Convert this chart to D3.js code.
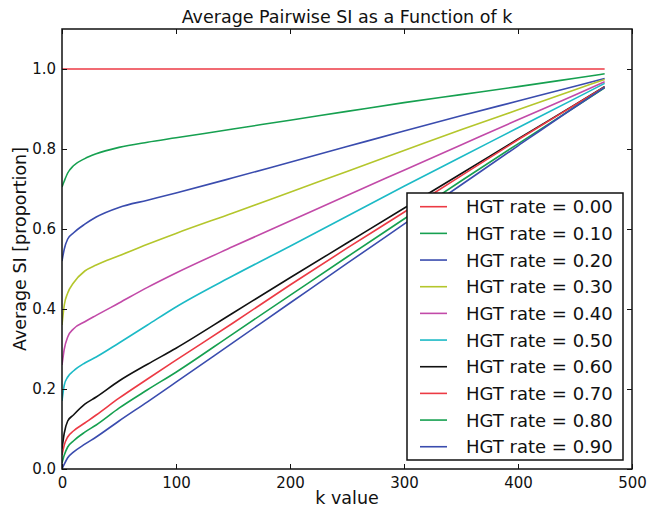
<!DOCTYPE html>
<html>
<head>
<meta charset="utf-8">
<script src="https://cdn.jsdelivr.net/npm/d3@7/dist/d3.min.js"></script>
<style>
body { margin: 0; background: #fff; }
text { font-family: "DejaVu Sans", sans-serif; fill: #111; }
</style>
</head>
<body>
<svg id="chart" width="647" height="509"></svg>
<script>
// k values sampled along the x axis
var kValues = [0, 2, 5, 10, 20, 30, 50, 75, 100, 150, 200, 250, 300, 350, 400, 450, 476];

var rateLabels = ["0.00", "0.10", "0.20", "0.30", "0.40", "0.50", "0.60", "0.70", "0.80", "0.90"];
var lineColors = ["#ec3a44", "#16a050", "#3a4cae", "#b4c62c", "#c24aa8", "#1cbac6", "#111111", "#ec3a44", "#16a050", "#3a4cae"];

// average SI per HGT rate
var si00 = [1, 1, 1, 1, 1, 1, 1, 1, 1, 1, 1, 1, 1, 1, 1, 1, 1];
var si10 = [0.705, 0.72, 0.74, 0.758, 0.776, 0.788, 0.804, 0.817, 0.828, 0.85, 0.872, 0.894, 0.916, 0.936, 0.956, 0.977, 0.988];
var si20 = [0.52, 0.55, 0.575, 0.59, 0.612, 0.63, 0.654, 0.672, 0.69, 0.728, 0.767, 0.806, 0.845, 0.883, 0.92, 0.957, 0.976];
var si30 = [0.36, 0.41, 0.44, 0.465, 0.495, 0.51, 0.533, 0.562, 0.589, 0.64, 0.692, 0.744, 0.796, 0.848, 0.898, 0.948, 0.974];
var si40 = [0.26, 0.3, 0.33, 0.35, 0.368, 0.384, 0.415, 0.454, 0.49, 0.556, 0.62, 0.684, 0.747, 0.81, 0.873, 0.935, 0.968];
var si50 = [0.17, 0.21, 0.23, 0.245, 0.265, 0.28, 0.315, 0.36, 0.405, 0.483, 0.557, 0.632, 0.707, 0.78, 0.853, 0.926, 0.964];
var si60 = [0.05, 0.09, 0.12, 0.135, 0.162, 0.18, 0.22, 0.262, 0.302, 0.39, 0.478, 0.565, 0.652, 0.738, 0.825, 0.911, 0.956];
var si70 = [0.035, 0.06, 0.08, 0.095, 0.115, 0.135, 0.177, 0.225, 0.272, 0.365, 0.46, 0.552, 0.642, 0.733, 0.823, 0.91, 0.955];
var si80 = [0.015, 0.035, 0.055, 0.07, 0.092, 0.11, 0.152, 0.198, 0.242, 0.338, 0.434, 0.53, 0.625, 0.72, 0.813, 0.905, 0.953];
var si90 = [0.0, 0.012, 0.028, 0.042, 0.062, 0.08, 0.12, 0.168, 0.217, 0.316, 0.415, 0.514, 0.612, 0.71, 0.808, 0.905, 0.954];

var xTicks = [0, 100, 200, 300, 400, 500];
var yTicks = [0.0, 0.2, 0.4, 0.6, 0.8, 1.0];

var allSeries = [si00, si10, si20, si30, si40, si50, si60, si70, si80, si90];
var series = allSeries.map(function(vals, i) {
  return {
    name: "HGT rate = " + rateLabels[i],
    color: lineColors[i],
    values: kValues.map(function(k, j) { return {x: k, y: vals[j]}; })
  };
});

var svg = d3.select("#chart"),
    margin = {top: 29, right: 15, bottom: 40, left: 62},
    width = 647 - margin.left - margin.right,
    height = 509 - margin.top - margin.bottom,
    g = svg.append("g").attr("transform", "translate(" + margin.left + "," + margin.top + ")");

var x = d3.scaleLinear().domain([0, 500]).range([0, width]),
    y = d3.scaleLinear().domain([0, 1.1]).range([height, 0]);

var line = d3.line()
    .curve(d3.curveMonotoneX)
    .x(function(d) { return x(d.x); })
    .y(function(d) { return y(d.y); });

svg.append("defs").append("clipPath").attr("id", "clip")
  .append("rect").attr("width", width).attr("height", height);

g.append("g").attr("clip-path", "url(#clip)")
  .selectAll(".series")
  .data(series)
  .enter().append("path")
    .attr("class", "series")
    .attr("d", function(d) { return line(d.values); })
    .attr("fill", "none")
    .attr("stroke", function(d) { return d.color; })
    .attr("stroke-width", 1.6);

// ticks point inward on all four sides (matplotlib classic look)
var tickFmt = d3.format(".1f");
var xAxis = g.append("g").attr("transform", "translate(0," + height + ")")
    .call(d3.axisBottom(x).tickValues(xTicks).tickSizeInner(-5).tickSizeOuter(0).tickPadding(8).tickFormat(d3.format("d")));
var xTop = g.append("g")
    .call(d3.axisTop(x).tickValues(xTicks).tickSizeInner(-5).tickSizeOuter(0).tickFormat(""));
var yAxis = g.append("g")
    .call(d3.axisLeft(y).tickValues(yTicks).tickSizeInner(-5).tickSizeOuter(0).tickPadding(6).tickFormat(tickFmt));
var yRight = g.append("g").attr("transform", "translate(" + width + ",0)")
    .call(d3.axisRight(y).tickValues(yTicks).tickSizeInner(-5).tickSizeOuter(0).tickFormat(""));

[xAxis, xTop, yAxis, yRight].forEach(function(a) {
  a.select(".domain").remove();
  a.selectAll(".tick line").attr("stroke", "#111").attr("stroke-width", 1);
  a.selectAll(".tick text").attr("font-size", 15).attr("font-family", "DejaVu Sans").attr("fill", "#111");
});

g.append("rect")
  .attr("width", width).attr("height", height)
  .attr("fill", "none").attr("stroke", "#111").attr("stroke-width", 1.5);

// title and axis labels
svg.append("text")
  .attr("x", margin.left + width / 2).attr("y", 23)
  .attr("text-anchor", "middle").attr("font-size", 17.5)
  .text("Average Pairwise SI as a Function of k");

svg.append("text")
  .attr("x", margin.left + width / 2).attr("y", 504)
  .attr("text-anchor", "middle").attr("font-size", 17.5)
  .text("k value");

svg.append("text")
  .attr("transform", "translate(20," + (margin.top + height / 2) + ") rotate(-90)")
  .attr("text-anchor", "middle").attr("dy", "0.35em").attr("font-size", 17.5)
  .text("Average SI [proportion]");

// legend
var legend = svg.append("g").attr("transform", "translate(407,193)");
legend.append("rect")
  .attr("width", 216).attr("height", 267)
  .attr("fill", "#fff").attr("stroke", "#111").attr("stroke-width", 1.5);

var item = legend.selectAll(".item")
  .data(series)
  .enter().append("g")
    .attr("class", "item")
    .attr("transform", function(d, i) { return "translate(0," + (13.7 + i * 26.67) + ")"; });

item.append("line")
  .attr("x1", 13).attr("x2", 40)
  .attr("stroke", function(d) { return d.color; })
  .attr("stroke-width", 1.6);

item.append("text")
  .attr("x", 59).attr("dy", "0.36em")
  .attr("font-size", 18)
  .text(function(d) { return d.name; });
</script>
</body>
</html>
